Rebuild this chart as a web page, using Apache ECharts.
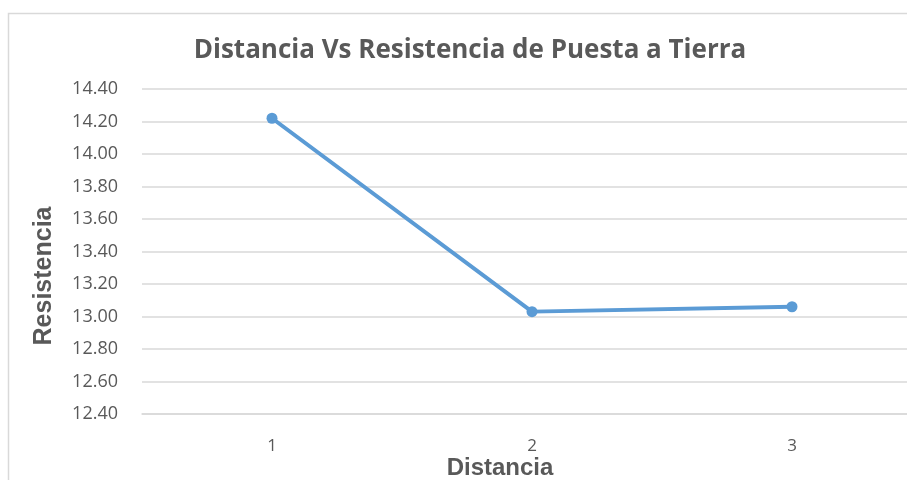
<!DOCTYPE html>
<html><head><meta charset="utf-8">
<script src="https://cdn.jsdelivr.net/npm/echarts@6/dist/echarts.min.js"></script>
<style>html,body{margin:0;padding:0;background:#fff;overflow:hidden}#c{width:940px;height:480px}</style>
</head><body><div id="c"></div>
<script>
const categories = ['1', '2', '3'];
const resistencia = [14.22, 13.03, 13.06];
const yTicks = { min: 12.4, max: 14.4, interval: 0.2 };
const titleText = 'Distancia Vs Resistencia de Puesta a Tierra';
const xName = 'Distancia';
const yName = 'Resistencia';

const chart = echarts.init(document.getElementById('c'));
chart.setOption({
  backgroundColor: '#fff',
  animation: false,
  title: {
    text: titleText, left: 465, top: 33, textAlign: 'center',
    textStyle: { fontFamily: 'Open Sans', fontWeight: 'bold', fontSize: 26, color: '#595959' }
  },
  graphic: [
    { type: 'rect', shape: { x: 8.5, y: 13.5, width: 1000, height: 600 }, style: { fill: 'none', stroke: '#d9d9d9', lineWidth: 1.5 }, z: -1 },
    { type: 'text', x: 44, y: 276, rotation: Math.PI / 2,
      style: { text: yName, font: 'bold 25px "Liberation Sans"', fill: '#595959', align: 'center', verticalAlign: 'middle' } },
    { type: 'text', x: 500, y: 468,
      style: { text: xName, font: 'bold 24px "Liberation Sans"', fill: '#595959', align: 'center', verticalAlign: 'middle' } }
  ],
  grid: { left: 142, top: 89, width: 780, bottom: 66, containLabel: false },
  xAxis: {
    type: 'category', data: categories, boundaryGap: true,
    axisLine: { show: true, lineStyle: { color: '#d9d9d9', width: 1.5 } },
    axisTick: { show: false },
    axisLabel: { margin: 24, fontFamily: 'Open Sans', fontSize: 17, color: '#595959' },
    splitLine: { show: false }
  },
  yAxis: {
    type: 'value', min: yTicks.min, max: yTicks.max, interval: yTicks.interval,
    axisLine: { show: false }, axisTick: { show: false },
    axisLabel: { margin: 24, fontFamily: 'Open Sans', fontSize: 18, color: '#595959', formatter: v => v.toFixed(2) },
    splitLine: { lineStyle: { color: '#d9d9d9', width: 1.5 } }
  },
  series: [{
    type: 'line', data: resistencia, symbol: 'circle', symbolSize: 11,
    lineStyle: { color: '#5b9bd5', width: 4 }, itemStyle: { color: '#5b9bd5' }
  }]
});
</script></body></html>
